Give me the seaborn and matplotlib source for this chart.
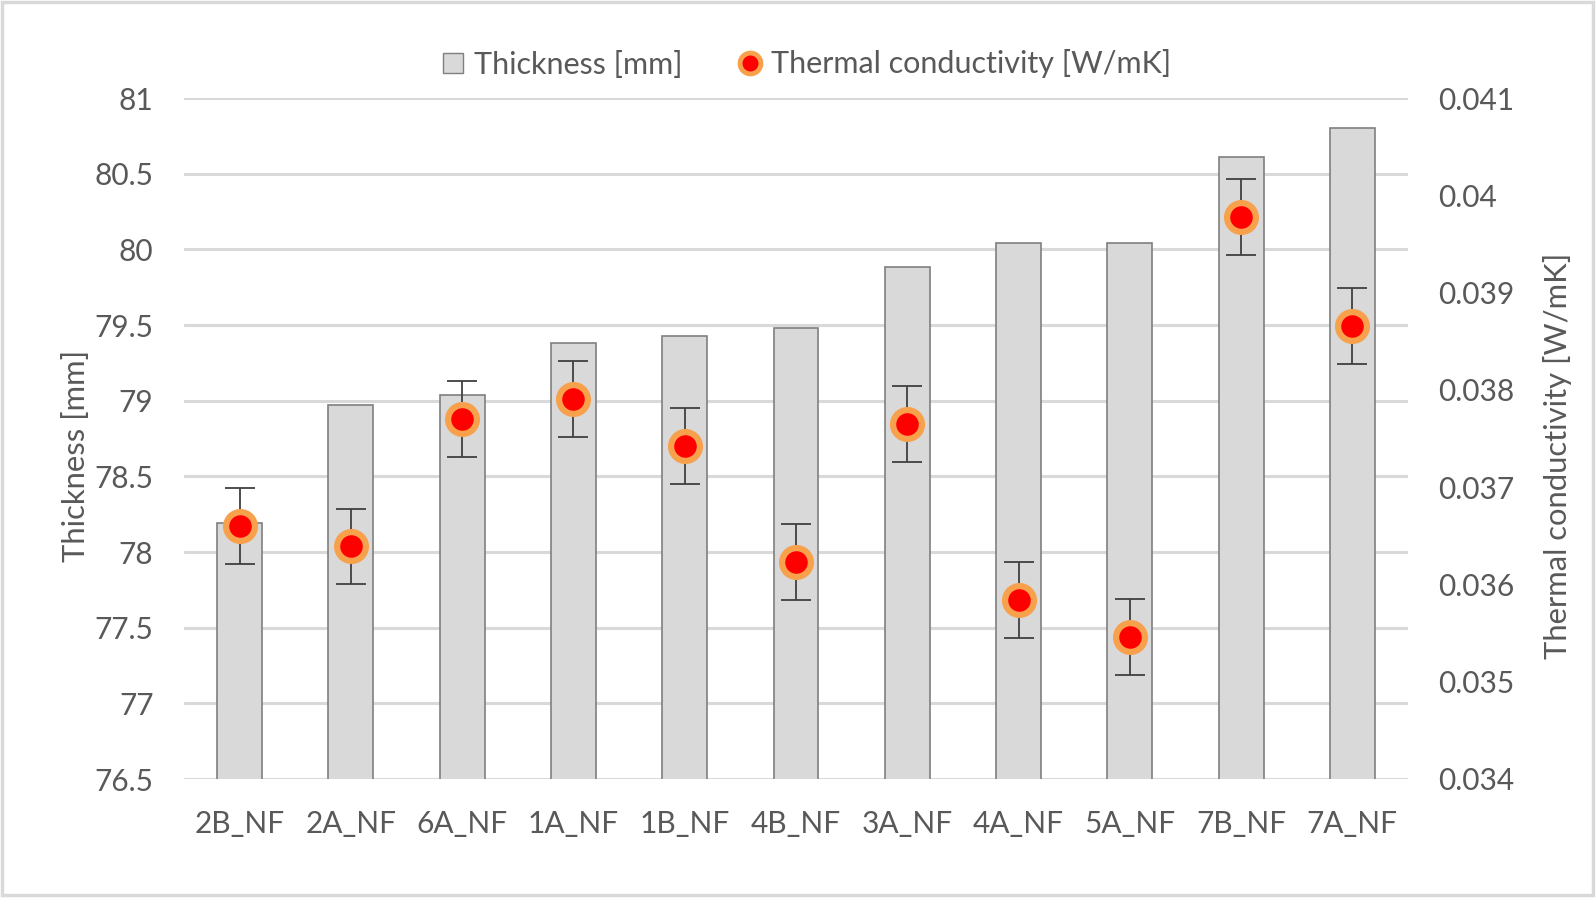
import numpy as np
import pandas as pd
import matplotlib
matplotlib.use("Agg")
import matplotlib.pyplot as plt
from matplotlib.lines import Line2D
from matplotlib.patches import Rectangle
import seaborn as sns

categories = ["2B_NF", "2A_NF", "6A_NF", "1A_NF", "1B_NF", "4B_NF",
              "3A_NF", "4A_NF", "5A_NF", "7B_NF", "7A_NF"]
thickness = [78.19, 78.97, 79.04, 79.38, 79.43, 79.48, 79.88, 80.04, 80.04, 80.61, 80.80]
conductivity = [0.03660, 0.03639, 0.03770, 0.03791, 0.03742, 0.03623,
                0.03765, 0.03584, 0.03546, 0.03978, 0.03866]
conductivity_err = [0.00039] * 11
left_ticks = [76.5, 77, 77.5, 78, 78.5, 79, 79.5, 80, 80.5, 81]
right_ticks = [0.034, 0.035, 0.036, 0.037, 0.038, 0.039, 0.040, 0.041]

sns.set_theme(style="white")
plt.rcParams['font.family'] = ['Lato', 'DejaVu Sans']
TXT = "#595959"
FS = 21.5
FL = 22.3

df = pd.DataFrame({"cat": categories, "thk": thickness, "k": conductivity})

fig = plt.figure(figsize=(15.96, 8.98), dpi=100)
ax = fig.add_axes([184/1596, 1-779/898, (1408-184)/1596, (779-98)/898])

for y in left_ticks:
    ax.axhline(y, color="#D9D9D9", lw=2.2, zorder=0)

sns.barplot(data=df, x="cat", y="thk", ax=ax, color="#D9D9D9", width=0.404,
            edgecolor="#7F7F7F", linewidth=1.2, saturation=1, zorder=2)
ax.set_ylim(76.5, 81)
ax.set_yticks(left_ticks)
ax.set_yticklabels(["76.5", "77", "77.5", "78", "78.5", "79", "79.5", "80", "80.5", "81"])
ax.set_xlim(-0.5, len(categories) - 0.5)
for s in ax.spines.values():
    s.set_visible(False)
ax.tick_params(axis="y", length=0, pad=22, labelsize=FS, labelcolor=TXT)
ax.tick_params(axis="x", length=0, pad=22, labelsize=FS, labelcolor=TXT)
ax.set_xlabel("")
ax.set_ylabel("Thickness [mm]", fontsize=FL, color=TXT)
ax.yaxis.set_label_coords(-0.0766, 0.474)

ax2 = ax.twinx()
ax2.errorbar(np.arange(len(categories)), conductivity, yerr=conductivity_err,
             fmt="none", ecolor="#404040", elinewidth=1.3, capsize=11, capthick=1.3, zorder=3)
sns.scatterplot(x=np.arange(len(categories)), y=conductivity, ax=ax2, s=430,
                color="#FF0000", edgecolor="#F8A14C", linewidth=4.5, zorder=4)
ax2.set_ylim(0.034, 0.041)
ax2.set_yticks(right_ticks)
ax2.set_yticklabels(["0.034", "0.035", "0.036", "0.037", "0.038", "0.039", "0.04", "0.041"])
for s in ax2.spines.values():
    s.set_visible(False)
ax2.tick_params(axis="y", length=0, pad=22, labelsize=FS, labelcolor=TXT)
ax2.set_ylabel("Thermal conductivity [W/mK]", fontsize=FL, color=TXT)
ax2.yaxis.set_label_coords(1.110, 0.474)
ax2.grid(False)
ax.grid(False)

handles = [
    Line2D([], [], marker="s", linestyle="none", markersize=14,
           markerfacecolor="#D9D9D9", markeredgecolor="#7F7F7F", markeredgewidth=1),
    Line2D([], [], marker="o", linestyle="none", markersize=15,
           markerfacecolor="#FF0000", markeredgecolor="#F8A14C", markeredgewidth=3.5),
]
fig.legend(handles, ["Thickness [mm]", "Thermal conductivity [W/mK]"],
           loc="center", bbox_to_anchor=(0.503, 1-64/898), ncol=2, frameon=False,
           fontsize=22, labelcolor=TXT, handletextpad=0.1, columnspacing=1.6,
           handlelength=1.2)

fig.patches.append(Rectangle((2/1596, 3/898), 1591/1596, 893/898, transform=fig.transFigure,
                             fill=False, edgecolor="#D9D9D9", linewidth=2.5))

fig.savefig("out.png", dpi=100)
